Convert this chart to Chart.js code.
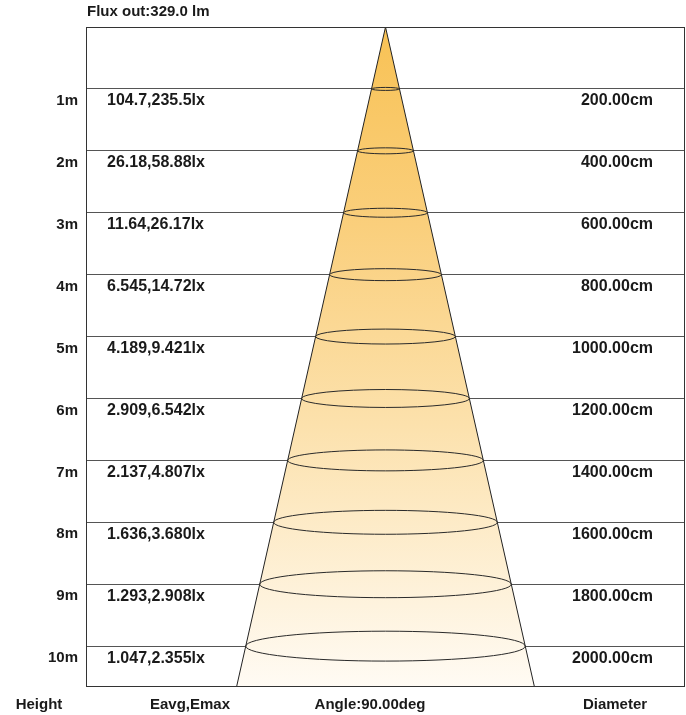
<!DOCTYPE html>
<html><head><meta charset="utf-8">
<script src="https://cdn.jsdelivr.net/npm/chart.js@4.4.1/dist/chart.umd.min.js"></script>
<style>html,body{margin:0;padding:0;background:#fff}#wrap{width:686px;height:715px}</style>
</head><body><div id="wrap"><canvas id="c" width="686" height="715"></canvas></div>
<script>
const heights = [1, 2, 3, 4, 5, 6, 7, 8, 9, 10];
const heightLabels = ['1m', '2m', '3m', '4m', '5m', '6m', '7m', '8m', '9m', '10m'];
const illuminanceLabels = ['104.7,235.5lx', '26.18,58.88lx', '11.64,26.17lx', '6.545,14.72lx', '4.189,9.421lx',
  '2.909,6.542lx', '2.137,4.807lx', '1.636,3.680lx', '1.293,2.908lx', '1.047,2.355lx'];
const diameters = [200, 400, 600, 800, 1000, 1200, 1400, 1600, 1800, 2000];
const diameterLabels = ['200.00cm', '400.00cm', '600.00cm', '800.00cm', '1000.00cm',
  '1200.00cm', '1400.00cm', '1600.00cm', '1800.00cm', '2000.00cm'];
const beamAngle = 90;
const fluxText = 'Flux out:329.0 lm';
const angleText = 'Angle:90.00deg';
const columnTitles = ['Height', 'Eavg,Emax', 'Diameter'];
const yMax = 10.66;
const xRange = 2143;

const FAM = '"Liberation Sans", Arial, sans-serif';
const FONT_NUM = 'bold 16px ' + FAM;
const FONT_TTL = 'bold 15px ' + FAM;
const TXT = '#1a1a1a';
const coneHalf = yMax * 100 * Math.tan(beamAngle / 2 * Math.PI / 180);

const textPlugin = {
  id: 'texts',
  afterDraw(chart) {
    const {ctx, chartArea: a, scales: {x, y}} = chart;
    ctx.save();
    // ellipses
    ctx.strokeStyle = '#2a2a2a';
    ctx.lineWidth = 1;
    heights.forEach((h, i) => {
      const cx = x.getPixelForValue(0);
      const cy = y.getPixelForValue(h);
      const rx = x.getPixelForValue(diameters[i] / 2) - cx;
      const ry = rx * 0.107;
      ctx.beginPath();
      ctx.ellipse(cx, cy, rx, ry, 0, 0, Math.PI * 2);
      ctx.stroke();
    });
    // frame
    ctx.strokeStyle = '#333';
    ctx.lineWidth = 1;
    ctx.strokeRect(Math.round(a.left) + 0.5, Math.round(a.top) + 0.5,
      Math.round(a.right - a.left) - 1, Math.round(a.bottom - a.top) - 1);
    // text
    ctx.fillStyle = TXT;
    ctx.textBaseline = 'middle';
    ctx.font = FONT_NUM;
    heights.forEach((h, i) => {
      const py = y.getPixelForValue(h) + 12;
      ctx.textAlign = 'left';
      ctx.fillText(illuminanceLabels[i], a.left + 21, py);
      ctx.textAlign = 'right';
      ctx.fillText(diameterLabels[i], 653, py);
    });
    ctx.font = FONT_TTL;
    ctx.textAlign = 'left';
    ctx.fillText(fluxText, a.left + 1, 12);
    ctx.textAlign = 'center';
    const by = a.bottom + 18;
    ctx.fillText(columnTitles[0], 39, by);
    ctx.fillText(columnTitles[1], 190, by);
    ctx.fillText(angleText, 370, by);
    ctx.fillText(columnTitles[2], 615, by);
    ctx.restore();
  }
};

new Chart(document.getElementById('c'), {
  type: 'line',
  data: {
    datasets: [{
      data: [{x: -coneHalf, y: yMax}, {x: 0, y: 0}, {x: coneHalf, y: yMax}],
      borderColor: '#222',
      borderWidth: 1,
      pointRadius: 0,
      tension: 0,
      fill: {value: yMax},
      backgroundColor: (c) => {
        const a = c.chart.chartArea;
        if (!a) return '#FBD890';
        const g = c.chart.ctx.createLinearGradient(0, a.top, 0, a.bottom);
        g.addColorStop(0, '#F8C255');
        g.addColorStop(0.3, '#FACF7C');
        g.addColorStop(0.6, '#FCE1AC');
        g.addColorStop(1, '#FFFBF4');
        return g;
      }
    }]
  },
  options: {
    responsive: false,
    animation: false,
    devicePixelRatio: 1,
    layout: {padding: {top: 27, bottom: 28, right: 1, left: 0}},
    plugins: {legend: {display: false}, tooltip: {enabled: false}},
    scales: {
      x: {type: 'linear', min: -xRange, max: xRange, display: false},
      y: {
        type: 'linear', reverse: true, min: 0, max: yMax,
        afterFit: (s) => { s.width = 86; },
        afterBuildTicks: (s) => { s.ticks = [0, ...heights].map(v => ({value: v})); },
        ticks: {
          callback: (v) => { const i = heights.indexOf(v); return i >= 0 ? heightLabels[i] : ''; },
          font: {family: FAM, size: 15, weight: 'bold'},
          color: TXT,
          padding: 8,
          labelOffset: 12
        },
        grid: {color: '#555', drawTicks: false, lineWidth: 1},
        border: {display: false}
      }
    }
  },
  plugins: [textPlugin]
});
</script>
</body></html>
